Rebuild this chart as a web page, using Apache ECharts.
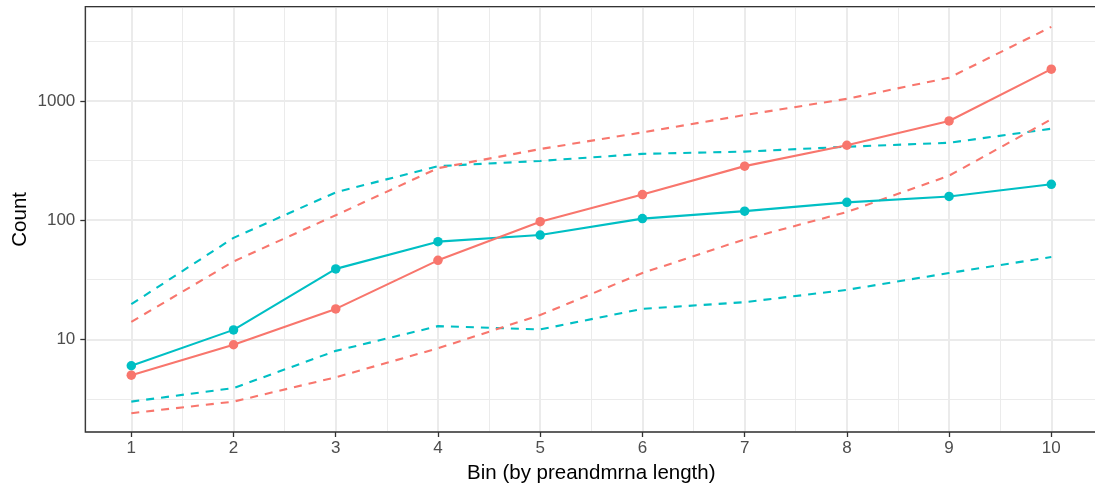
<!DOCTYPE html>
<html>
<head>
<meta charset="utf-8">
<script src="https://cdn.jsdelivr.net/npm/echarts@6/dist/echarts.min.js"></script>
<style>
	html, body { margin: 0; padding: 0; background: #fff; }
	#main { width: 1095px; height: 485px; }
</style>
</head>
<body>
<div id="main"></div>
<script>
// bins on the x axis
var bins = [1, 2, 3, 4, 5, 6, 7, 8, 9, 10];
// red group: observed count and its band
var redCount = [5, 9, 18, 46, 97, 164, 284, 425, 680, 1850];
var redUpper = [14, 45, 110, 273, 395, 545, 762, 1042, 1567, 4190];
var redLower = [2.4, 3.0, 4.8, 8.4, 16, 36, 69, 117, 236, 702];
// teal group: observed count and its band
var tealCount = [6, 12, 39, 66, 75, 103, 119, 141, 158, 200];
var tealUpper = [19.7, 71, 171, 284, 314, 360, 376, 413, 446, 585];
var tealLower = [3.0, 3.9, 8.0, 12.9, 12.1, 18, 20.5, 26, 36, 49];

var RED = '#F8766D';
var TEAL = '#00BFC4';
var FONT = 'Liberation Sans';

function pairs(values) {
	var out = [];
	for (var i in bins) {
		out.push([bins[i], values[i]]);
	}
	return out;
}

function solidLine(name, values, color) {
	return {
		name : name,
		type : 'line',
		data : pairs(values),
		symbol : 'circle',
		symbolSize : 9.5,
		showSymbol : true,
		z : 5,
		itemStyle : { color : color },
		lineStyle : { color : color, width : 2.1 }
	};
}

function dashedLine(name, values, color) {
	return {
		name : name,
		type : 'line',
		data : pairs(values),
		symbol : 'none',
		showSymbol : false,
		z : 3,
		lineStyle : { color : color, width : 2.1, type : [8, 7] }
	};
}

var myChart = echarts.init(document.getElementById('main'));
var option = {
	animation : false,
	backgroundColor : '#fff',
	grid : {
		left : 85.3,
		top : 6.7,
		width : 1012,
		bottom : 53,
		outerBoundsMode : 'none',
		containLabel : false,
		show : true,
		z : 10,
		borderColor : '#333333',
		borderWidth : 1.3,
		backgroundColor : 'transparent'
	},
	xAxis : [ {
		type : 'value',
		min : 0.55,
		max : 10.45,
		splitNumber : 10,
		name : 'Bin (by preandmrna length)',
		nameLocation : 'middle',
		nameGap : 31,
		nameMoveOverlap : false,
		nameTextStyle : { fontFamily : FONT, fontSize : 20.5, color : '#000' },
		axisLine : { show : false },
		axisTick : { show : true, length : 5, lineStyle : { color : '#333333', width : 1.3 } },
		axisLabel : {
			showMinLabel : false,
			showMaxLabel : false,
			margin : 8,
			fontFamily : FONT,
			fontSize : 17,
			color : '#4D4D4D'
		},
		splitLine : { show : true, lineStyle : { color : '#EBEBEB', width : 2 } },
		minorTick : { show : false, splitNumber : 2 },
		minorSplitLine : { show : true, lineStyle : { color : '#EBEBEB', width : 1 } }
	} ],
	yAxis : [ {
		type : 'log',
		logBase : 10,
		min : 1.668,
		max : 6183,
		name : 'Count',
		nameLocation : 'middle',
		nameGap : 54,
		nameMoveOverlap : false,
		nameTextStyle : { fontFamily : FONT, fontSize : 20.5, color : '#000' },
		axisLine : { show : false },
		axisTick : { show : true, length : 5, lineStyle : { color : '#333333', width : 1.3 } },
		axisLabel : {
			showMinLabel : false,
			showMaxLabel : false,
			margin : 10,
			fontFamily : FONT,
			fontSize : 17,
			color : '#4D4D4D',
			formatter : function(v) {
				return String(Math.round(v));
			}
		},
		splitLine : { show : true, lineStyle : { color : '#EBEBEB', width : 2 } }
	}, {
		// half-decade minor grid
		type : 'log',
		logBase : Math.sqrt(10),
		min : 1.668,
		max : 6183,
		position : 'left',
		axisLine : { show : false },
		axisTick : { show : false },
		axisLabel : { show : false },
		splitLine : { show : true, lineStyle : { color : '#EBEBEB', width : 1 } }
	} ],
	series : [
		dashedLine('teal upper', tealUpper, TEAL),
		dashedLine('teal lower', tealLower, TEAL),
		dashedLine('red upper', redUpper, RED),
		dashedLine('red lower', redLower, RED),
		solidLine('teal', tealCount, TEAL),
		solidLine('red', redCount, RED)
	]
};
myChart.setOption(option);
</script>
</body>
</html>
